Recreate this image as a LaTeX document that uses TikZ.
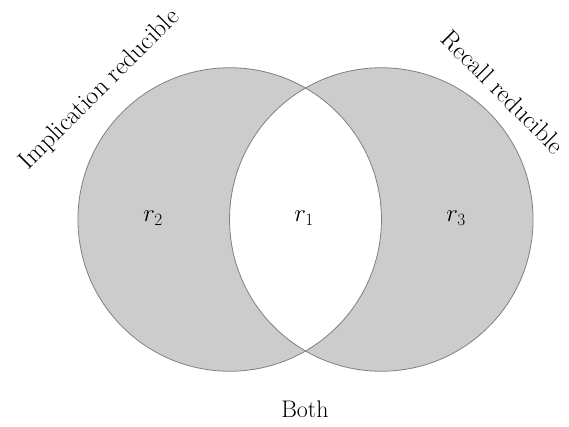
\documentclass[tikz,border=0pt]{standalone}
\usepackage{fontspec}
\begin{document}
\begin{tikzpicture}[x=1pt,y=-1pt,
  lbl/.style={font=\fontsize{24}{28}\selectfont, inner sep=0pt},
  rlbl/.style={font=\fontsize{25.5}{30}\selectfont, inner sep=0pt},
  mlbl/.style={font=\fontsize{27}{32}\selectfont, inner sep=0pt},
  setfill/.style={fill=black!20, even odd rule},
  setedge/.style={draw=black!50, line width=0.8pt}]
\useasboundingbox (0,0) rectangle (569,427);
\coordinate (cl) at (229.7,219.5);
\coordinate (cr) at (381.3,219.5);
\fill[setfill] (cl) circle[radius=151.75] (cr) circle[radius=151.75];
\draw[setedge] (cl) circle[radius=151.75];
\draw[setedge] (cr) circle[radius=151.75];
\node[mlbl] (r2) at (153,218) {$r_2$};
\node[mlbl] (r1) at (304,218) {$r_1$};
\node[mlbl] (r3) at (456,218) {$r_3$};
\node[rlbl, rotate=45] (impl) at (100,90) {Implication reducible};
\node[rlbl, rotate=-45] (rec) at (503,92) {Recall reducible};
\node[lbl] (both) at (305,409) {Both};
\end{tikzpicture}
\end{document}
